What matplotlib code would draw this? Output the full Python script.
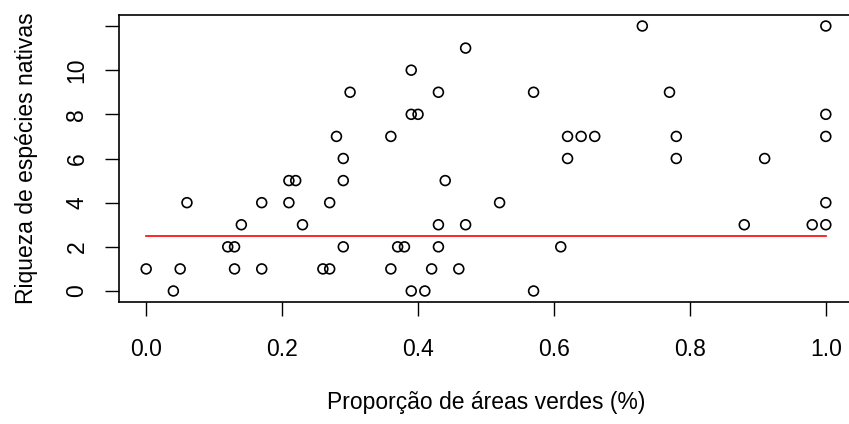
import matplotlib
matplotlib.use("Agg")
import matplotlib.pyplot as plt
import numpy as np

plt.rcParams['font.family'] = ['Liberation Sans', 'DejaVu Sans']

# proportion of green areas and native species richness
prop = [0.00, 0.04, 0.05, 0.06, 0.12, 0.13, 0.13, 0.14, 0.17, 0.17,
        0.21, 0.22, 0.21, 0.23, 0.26, 0.27, 0.27, 0.29, 0.29, 0.29,
        0.28, 0.30, 0.47, 0.39, 0.43, 0.57, 0.39, 0.40, 0.36, 0.62,
        0.64, 0.62, 0.44, 0.52, 0.43, 0.47, 0.37, 0.38, 0.43, 0.61,
        0.36, 0.42, 0.46, 0.39, 0.41, 0.57, 0.73, 1.00, 0.77, 1.00,
        0.66, 0.78, 1.00, 0.78, 0.91, 1.00, 0.88, 0.98, 1.00]
riqueza = [1, 0, 1, 4, 2, 2, 1, 3, 4, 1,
           5, 5, 4, 3, 1, 1, 4, 2, 5, 6,
           7, 9, 11, 10, 9, 9, 8, 8, 7, 7,
           7, 6, 5, 4, 3, 3, 2, 2, 2, 2,
           1, 1, 1, 0, 0, 0, 12, 12, 9, 8,
           7, 7, 7, 6, 6, 4, 3, 3, 3]

# fitted (flat) model line
fit_x = [0.0, 1.0]
fit_y = [2.47, 2.47]

W, H = 849, 424
fig = plt.figure(figsize=(W / 100, H / 100), dpi=100)
ax = fig.add_axes([119 / W, (H - 301.6) / H, (853 - 119) / W, (301.6 - 15.4) / H])

ax.scatter(prop, riqueza, s=50, facecolors='none', edgecolors='black', linewidths=1.2, zorder=3)
ax.plot(fit_x, fit_y, color='red', lw=1.2)

ax.set_xlim(-0.04, 1.04)
ax.set_ylim(-0.48, 12.48)
ax.set_xticks(np.arange(0, 1.01, 0.2))
ax.set_xticklabels(['0.0', '0.2', '0.4', '0.6', '0.8', '1.0'])
ax.set_yticks(range(0, 13, 2))
ax.set_yticklabels(['0', '2', '4', '6', '8', '10', ''], rotation=90, va='center')
ax.tick_params(axis='both', length=10, width=1, labelsize=16.5, direction='out')
ax.tick_params(axis='x', pad=16)
ax.tick_params(axis='y', pad=12)
for s in ax.spines.values():
    s.set_linewidth(1.2)

ax.set_xlabel('Proporção de áreas verdes (%)', fontsize=16.5, labelpad=22)
ax.set_ylabel('Riqueza de espécies nativas', fontsize=16.5, labelpad=20)

fig.savefig('out.png', dpi=100)
